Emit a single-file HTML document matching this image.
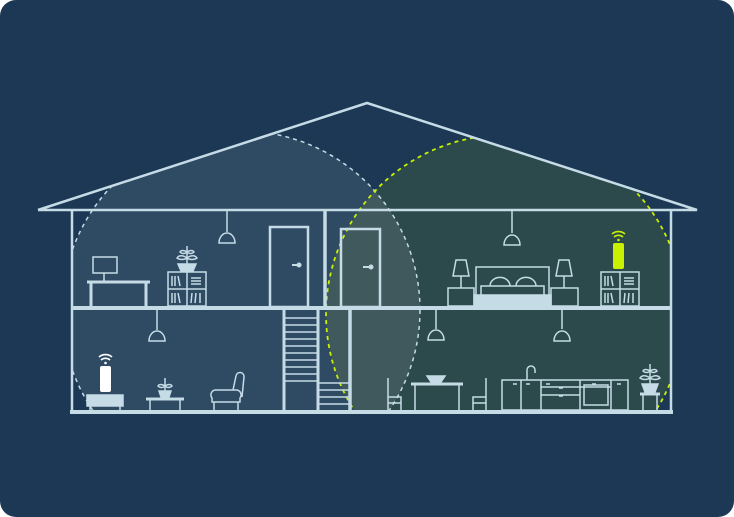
<!DOCTYPE html>
<html><head><meta charset="utf-8"><style>
html,body{margin:0;padding:0;background:#fff;}
.wrap{width:734px;height:517px;background:#1c3854;border-radius:16px;overflow:hidden;}
svg{display:block}
</style></head><body><div class="wrap">
<svg width="734" height="517" viewBox="0 0 734 517" xmlns="http://www.w3.org/2000/svg">
<defs>
<clipPath id="house"><polygon points="38,210 367,103 697,210 671,210 671,413 72,413 72,210"/></clipPath>
<clipPath id="wc"><circle cx="241" cy="310" r="179"/></clipPath>
</defs>
<g clip-path="url(#house)">
<circle cx="241" cy="310" r="179" fill="#2f4a63"/>
<circle cx="505" cy="314" r="179" fill="#2c4a4b"/>
<circle cx="505" cy="314" r="179" fill="#40595d" clip-path="url(#wc)"/>
<circle cx="241" cy="310" r="179" fill="none" stroke="#c5dbe6" stroke-width="1.5" stroke-dasharray="4 4"/>
<circle cx="505" cy="314" r="179" fill="none" stroke="#c8f000" stroke-width="1.8" stroke-dasharray="4 4"/>
</g>
<g fill="none" stroke="#c5dbe6" stroke-width="2.5">
<polyline points="38,210 367,103 697,210 38,210"/>
<line x1="72" y1="210" x2="72" y2="414"/>
<line x1="671" y1="210" x2="671" y2="414"/>
<line x1="72" y1="308" x2="671" y2="308" stroke-width="4"/>
<line x1="70" y1="412" x2="673" y2="412" stroke-width="4"/>
<line x1="325" y1="210" x2="325" y2="308" stroke-width="3.5"/>
<line x1="284" y1="308" x2="284" y2="412" stroke-width="3"/>
<line x1="318" y1="308" x2="318" y2="412" stroke-width="3"/>
<line x1="350" y1="308" x2="350" y2="412" stroke-width="3.5"/>
</g>
<g fill="none" stroke="#c5dbe6" stroke-width="1.5">
<path d="M285 318H317M285 325H317M285 332H317M285 339H317M285 346H317M285 353H317M285 360H317M285 367H317M285 374H317M285 381H317"/>
<path d="M319 383H349M319 390H349M319 397H349M319 404H349"/>
<path d="M227 211V232M219 243a8 10 0 0 1 16 0Z"/>
<path d="M157 309V330M149 341a8 10 0 0 1 16 0Z"/>
<path d="M512 211V233M504 245a8 10 0 0 1 16 0Z"/>
<path d="M436 309V329M428 340a8 10 0 0 1 16 0Z"/>
<path d="M562 309V329M554 341a8 10 0 0 1 16 0Z"/>
<rect x="270" y="227" width="38" height="80" stroke-width="2.5"/>
<path d="M292 265H299" stroke-width="2"/>
<circle cx="299" cy="265" r="1.8" fill="#c5dbe6"/>
<rect x="341" y="229" width="39" height="78" stroke-width="2.5"/>
<path d="M363 267H371" stroke-width="2"/>
<circle cx="371" cy="267" r="1.8" fill="#c5dbe6"/>
<rect x="93" y="257" width="24" height="16" stroke-width="1.5"/>
<path d="M104 273V281"/>
<path d="M87 282H150" stroke-width="3"/>
<path d="M91 283V307M146 283V307" stroke-width="3"/>
<rect x="168" y="272" width="38" height="34"/>
<path d="M187 272V306M168 289H206"/>
<path d="M172 276v10M175 276v10M178 276l2 10M191 278h10M191 281h10M191 284h10M172 293v10M175 293v10M178 293l2 10M192 293l-1 10M196 293l-1 10M200 293v10"/>
<rect x="601" y="272" width="38" height="34"/>
<path d="M620 272V306M601 289H639"/>
<path d="M605 276v10M608 276v10M611 276l2 10M624 278h10M624 281h10M624 284h10M605 293v10M608 293v10M611 293l2 10M625 293l-1 10M629 293l-1 10M633 293v10"/>
<path d="M187 264V246M187 258c-4-3-8-3-10 0 3 2 7 2 10 0zM187 258c4-3 8-3 10 0-3 2-7 2-10 0zM187 252c-3-2-6-2-7 0 2 2 5 2 7 0zM187 252c3-2 6-2 7 0-2 2-5 2-7 0z"/>
<path d="M178 264h18l-3 7h-12z" fill="#c5dbe6"/>
<path d="M146 399H184" stroke-width="3"/>
<path d="M150 400V411M180 400V411"/>
<path d="M165 392V378M165 386c-3-2-6-2-7 0 2 2 5 2 7 0zM165 386c3-2 6-2 7 0-2 2-5 2-7 0z"/>
<path d="M159 391h12l-2 6h-8z" fill="#c5dbe6"/>
<path d="M212 398a5 5 0 0 1 3-8h22a5 5 0 0 1 3 8v4h-28zM233 390l3-14a4 4 0 0 1 8 1l-2 20M214 402v8M238 402v8"/>
<rect x="87" y="395" width="36" height="11" fill="#c5dbe6"/>
<path d="M90 406V411M120 406V411"/>
<rect x="476" y="267" width="73" height="31"/>
<rect x="481" y="286" width="63" height="10"/>
<path d="M490 286a7 6 0 0 1 20 0M516 286a7 6 0 0 1 20 0"/>
<rect x="474" y="295" width="77" height="11" fill="#c5dbe6"/>
<rect x="448" y="288" width="26" height="18"/>
<rect x="551" y="288" width="27" height="18"/>
<path d="M456 260h10l3 16h-16z M461 276V288"/>
<path d="M559 260h10l3 16h-16z M564 276V288"/>
<path d="M411 384H463" stroke-width="3"/>
<path d="M415 385V411M459 385V411"/>
<path d="M427 376h18l-4 6h-10z" fill="#c5dbe6"/>
<path d="M388 378V411M388 397h13v14M388 403h13"/>
<path d="M486 378V411M486 397h-13v14M486 403h-13"/>
<rect x="502" y="380" width="126" height="30"/>
<path d="M521 380V410M541 380V410M580 380V410M611 380V410M541 387H611M541 395H580M584 385h24v20h-24z"/>
<path d="M527 380v-10a4 4 0 0 1 8 0v3" />
<path d="M513 384h4M526 384h4M546 384h4M559 388h4M559 396h4M592 384h4M617 384h4" stroke-width="1.5"/>
<path d="M640 394H660" stroke-width="3"/>
<path d="M643 395V411M657 395V411"/>
<path d="M650 385V364M650 378c-4-3-8-3-10 0 3 2 7 2 10 0zM650 378c4-3 8-3 10 0-3 2-7 2-10 0zM650 371c-3-2-6-2-7 0 2 2 5 2 7 0zM650 371c3-2 6-2 7 0-2 2-5 2-7 0z"/>
<path d="M642 384h16l-3 8h-10z" fill="#c5dbe6"/>
</g>
<rect x="100" y="366" width="11" height="26" rx="2" fill="#ffffff"/>
<g fill="none" stroke="#ffffff" stroke-width="1.6"><path d="M99 357a9 8 0 0 1 13 0M101 360a6 5 0 0 1 9 0"/></g>
<circle cx="105.5" cy="363" r="1.3" fill="#fff"/>
<rect x="613" y="243" width="11" height="26" rx="2" fill="#c8f000"/>
<g fill="none" stroke="#c8f000" stroke-width="1.6"><path d="M612 234a9 8 0 0 1 13 0M614 237a6 5 0 0 1 9 0"/></g>
<circle cx="618.5" cy="240" r="1.3" fill="#c8f000"/>
</svg>
</div></body></html>
